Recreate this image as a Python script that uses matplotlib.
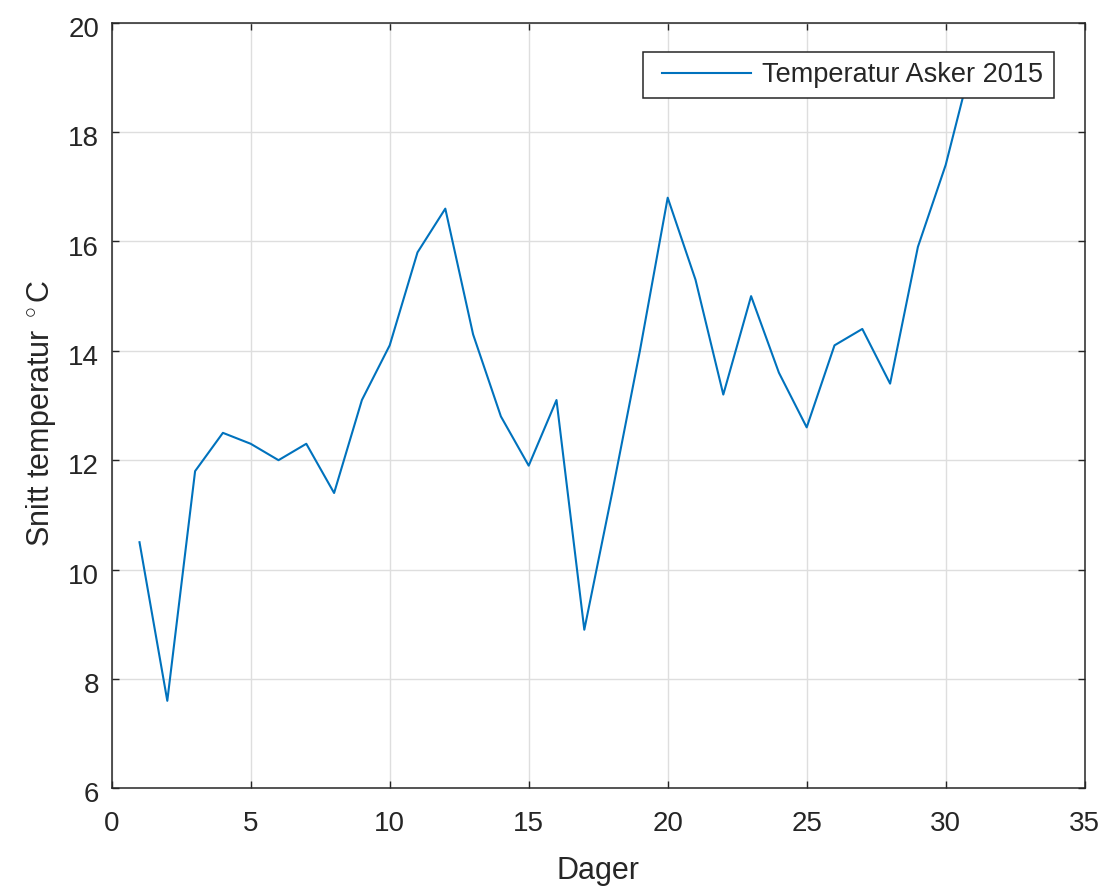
import matplotlib
matplotlib.use("Agg")
import matplotlib.pyplot as plt
import matplotlib.transforms as mtransforms
from matplotlib.legend_handler import HandlerLine2D

# Average daily temperature in Asker, July 2015
days = list(range(1, 32))
temps = [10.5, 7.6, 11.8, 12.5, 12.3, 12.0, 12.3, 11.4, 13.1, 14.1,
         15.8, 16.6, 14.3, 12.8, 11.9, 13.1, 8.9, 11.4, 14.0, 16.8,
         15.3, 13.2, 15.0, 13.6, 12.6, 14.1, 14.4, 13.4, 15.9, 17.4,
         19.4]
series_label = "Temperatur Asker 2015"
x_ticks = [0, 5, 10, 15, 20, 25, 30, 35]
y_ticks = [6, 8, 10, 12, 14, 16, 18, 20]

plt.rcParams["font.family"] = ["Liberation Sans", "DejaVu Sans"]
plt.rcParams["mathtext.fontset"] = "custom"
plt.rcParams["mathtext.rm"] = "Liberation Sans"
plt.rcParams["mathtext.it"] = "Liberation Sans"


class InsetLineHandler(HandlerLine2D):
    """Legend line that starts a little inside the handle box."""

    def __init__(self, inset=0.3, **kw):
        super().__init__(**kw)
        self.inset = inset

    def get_xdata(self, legend, xdescent, ydescent, width, height, fontsize):
        x0 = -xdescent + self.inset * fontsize
        return [x0, -xdescent + width], [x0, -xdescent + width]


ink = "#262626"
fig = plt.figure(figsize=(11.07, 8.90), dpi=100)
ax = fig.add_axes([111.7 / 1107, 101.7 / 890, 973.0 / 1107, 765.6 / 890])

line, = ax.plot(days, temps, color="#0072BD", lw=1.5, label=series_label, zorder=3)

ax.set_xlim(0, 35)
ax.set_ylim(6, 20)
ax.set_xticks(x_ticks)
ax.set_yticks(y_ticks)

ax.grid(True, color="#dedede", lw=1.0)
ax.set_axisbelow(True)
for sp in ax.spines.values():
    sp.set_color(ink)
    sp.set_linewidth(1.1)
ax.tick_params(direction="in", length=5, width=1.0, colors=ink,
               labelsize=20, top=True, right=True)
ax.tick_params(axis="x", pad=16)
ax.tick_params(axis="y", pad=9)

# nudge y tick labels slightly downward
shift = mtransforms.ScaledTranslation(0, -3 / 72, fig.dpi_scale_trans)
for lab in ax.get_yticklabels():
    lab.set_transform(lab.get_transform() + shift)

ax.set_xlabel("Dager", fontsize=22, color=ink, labelpad=14)
ax.set_ylabel("Snitt temperatur $^\\circ$C", fontsize=22, color=ink)
ax.yaxis.set_label_coords(-0.0555, 0.49)

leg = ax.legend(loc="upper right", bbox_to_anchor=(0.968, 0.962),
                borderaxespad=0, fontsize=19.5, frameon=True, fancybox=False,
                handlelength=3.62, handletextpad=0.4, borderpad=0.38,
                framealpha=1, handler_map={line: InsetLineHandler(inset=0.31)})
leg.get_frame().set_edgecolor(ink)
leg.get_frame().set_linewidth(1.1)
for t in leg.get_texts():
    t.set_color(ink)

fig.savefig("out.png", dpi=100, facecolor="white")
